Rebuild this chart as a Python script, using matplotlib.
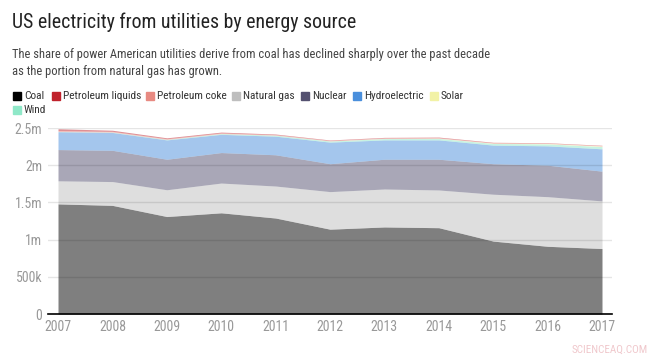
import numpy as np
import matplotlib
matplotlib.use('Agg')
import matplotlib.pyplot as plt
from matplotlib.patches import Rectangle
from matplotlib.ticker import FuncFormatter

plt.rcParams['font.family'] = ['Roboto Condensed', 'Roboto', 'DejaVu Sans']

# Data (MWh)
years = [2007, 2008, 2009, 2010, 2011, 2012, 2013, 2014, 2015, 2016, 2017]
coal = [1480e3, 1460e3, 1310e3, 1360e3, 1290e3, 1140e3, 1170e3, 1160e3, 980e3, 910e3, 880e3]
natural_gas = [310e3, 320e3, 360e3, 400e3, 430e3, 505e3, 510e3, 507e3, 630e3, 667e3, 640e3]
nuclear = [420e3, 420e3, 410e3, 410e3, 420e3, 375e3, 400e3, 413e3, 410e3, 423e3, 400e3]
hydro = [240e3, 240e3, 260e3, 245e3, 250e3, 290e3, 260e3, 260e3, 250e3, 260e3, 300e3]
wind = [3e3, 5e3, 7e3, 10e3, 13e3, 15e3, 18e3, 20e3, 22e3, 26e3, 30e3]
solar = [0, 0, 0, 0, 0, 1e3, 2e3, 3e3, 4e3, 6e3, 8e3]
pet_coke = [12e3, 10e3, 9e3, 9e3, 8e3, 7e3, 7e3, 7e3, 6e3, 5e3, 5e3]
pet_liquids = [25e3, 15e3, 12e3, 11e3, 8e3, 6e3, 7e3, 8e3, 6e3, 5e3, 5e3]

legend_names = ['Coal', 'Petroleum liquids', 'Petroleum coke', 'Natural gas',
                'Nuclear', 'Hydroelectric', 'Solar', 'Wind']
colors = {
    'Coal': '#000000',
    'Petroleum liquids': '#c0222c',
    'Petroleum coke': '#e88a82',
    'Natural gas': '#bebebe',
    'Nuclear': '#545170',
    'Hydroelectric': '#4a8fdc',
    'Solar': '#f2f2a6',
    'Wind': '#8fe8c8',
}

title = 'US electricity from utilities by energy source'
subtitle = ('The share of power American utilities derive from coal has declined sharply over the past decade\n'
            'as the portion from natural gas has grown.')

W, H = 665, 356
fig = plt.figure(figsize=(W / 100, H / 100), dpi=100)
ax = fig.add_axes([48 / W, 1 - 314 / H, 564 / W, 186 / H])

# stacking order as drawn in the chart (bottom -> top)
stack = [('Coal', coal), ('Natural gas', natural_gas), ('Nuclear', nuclear),
         ('Hydroelectric', hydro), ('Wind', wind), ('Solar', solar),
         ('Petroleum coke', pet_coke), ('Petroleum liquids', pet_liquids)]
base = np.zeros(len(years))
for name, vals in stack:
    top = base + np.array(vals)
    ax.fill_between(years, base, top, color=colors[name], alpha=0.5,
                    linewidth=0, zorder=1)
    base = top

ax.set_xlim(2007 - 10 / 54.4, 2017 + 10 / 54.4)
ax.set_ylim(0, 2.5e6)
ax.set_xticks(years)
ax.set_yticks([0, 500e3, 1e6, 1.5e6, 2e6, 2.5e6])


def fmt(v, pos):
    if v == 0:
        return '0'
    if v >= 1e6:
        return f'{v / 1e6:g}m'
    return f'{v / 1e3:g}k'


ax.yaxis.set_major_formatter(FuncFormatter(fmt))
ax.grid(axis='y', color='black', alpha=0.1, linewidth=1, zorder=2)
ax.set_axisbelow(False)
for s in ['top', 'right', 'left']:
    ax.spines[s].set_visible(False)
ax.spines['bottom'].set_color('black')
ax.spines['bottom'].set_linewidth(1.2)
ax.spines['bottom'].set_zorder(3)
ax.tick_params(axis='both', length=0, labelsize=10, colors='#999999')
ax.tick_params(axis='y', pad=4)
ax.tick_params(axis='x', pad=4)

# titles
fig.text(12 / W, 1 - 22 / H, title, fontsize=14.3, color='#222222', va='center')
fig.text(12 / W, 1 - 63 / H, subtitle, fontsize=9, color='#444444',
         va='center', linespacing=1.4)

# legend
leg_x = [13, 52, 146, 232, 301, 353, 430, 13]
leg_y = [96, 96, 96, 96, 96, 96, 96, 110]
for name, lx, ly in zip(legend_names, leg_x, leg_y):
    fig.patches.append(Rectangle((lx / W, 1 - (ly + 4) / H), 8 / W, 8 / H,
                                 transform=fig.transFigure,
                                 color=colors[name], figure=fig))
    fig.text((lx + 11) / W, 1 - ly / H, name, fontsize=8.2, color='#333333',
             va='center')

fig.text(648 / W, 1 - 350 / H, 'SCIENCEAQ.COM', fontsize=8, color='#f0c8cc',
         ha='right', va='center')

fig.savefig('out.png', dpi=100)
